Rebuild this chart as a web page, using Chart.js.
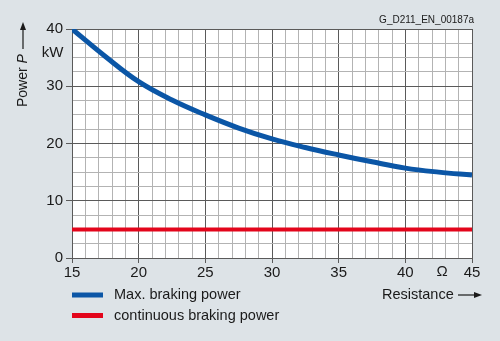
<!DOCTYPE html>
<html>
<head>
<meta charset="utf-8">
<script src="https://cdn.jsdelivr.net/npm/chart.js@4.4.1/dist/chart.umd.min.js"></script>
<style>
  html, body { margin: 0; padding: 0; background: #dde3e7; }
  #wrap { width: 500px; height: 341px; position: relative; }
</style>
</head>
<body>
<div id="wrap"><canvas id="c" width="500" height="341"></canvas></div>
<script>
// ---- data ----
const resistance = [15, 17.5, 20, 22.5, 25, 27.5, 30, 32.5, 35, 37.5, 40, 42.5, 45];
const maxBrakingPower = [40, 35.2, 30.8, 27.6, 25.0, 22.7, 20.8, 19.3, 18.0, 16.8, 15.7, 15.0, 14.5];
const continuousResistance = [15, 45];
const continuousBrakingPower = [5, 5];
const xTickLabels = [15, 20, 25, 30, 35, 40, 45];
const yTickLabels = [0, 10, 20, 30, 40];
const seriesNames = ['Max. braking power', 'continuous braking power'];
const seriesColors = ['#0b56a6', '#e3051b'];
const sourceLabel = 'G_D211_EN_00187a';

const FONT = '"Liberation Sans", Arial, sans-serif';
const MAJOR = '#5a5a5a';
const MINOR = '#b3b3b3';

const bgPlugin = {
  id: 'bg',
  beforeDraw(chart) {
    const { ctx, chartArea: a } = chart;
    ctx.save();
    ctx.fillStyle = '#dde3e7';
    ctx.fillRect(0, 0, chart.width, chart.height);
    ctx.fillStyle = '#ffffff';
    ctx.fillRect(a.left, a.top, a.right - a.left, a.bottom - a.top);
    ctx.restore();
  }
};

function arrow(ctx, x1, y1, x2, y2) {
  const ang = Math.atan2(y2 - y1, x2 - x1);
  const hl = 8, hw = 3;
  ctx.beginPath();
  ctx.moveTo(x1, y1);
  ctx.lineTo(x2 - Math.cos(ang) * hl, y2 - Math.sin(ang) * hl);
  ctx.lineWidth = 1.2;
  ctx.stroke();
  ctx.beginPath();
  ctx.moveTo(x2, y2);
  ctx.lineTo(x2 - Math.cos(ang) * hl - Math.sin(ang) * hw, y2 - Math.sin(ang) * hl + Math.cos(ang) * hw);
  ctx.lineTo(x2 - Math.cos(ang) * hl + Math.sin(ang) * hw, y2 - Math.sin(ang) * hl - Math.cos(ang) * hw);
  ctx.closePath();
  ctx.fill();
}

const textPlugin = {
  id: 'texts',
  afterDraw(chart) {
    const { ctx, chartArea: a } = chart;
    const xs = chart.scales.x;
    ctx.save();
    ctx.fillStyle = '#1a1a1a';
    ctx.strokeStyle = '#1a1a1a';

    ctx.font = '10px ' + FONT;
    ctx.textAlign = 'right';
    ctx.textBaseline = 'middle';
    ctx.fillText(sourceLabel, a.right + 2, 20.5);

    ctx.font = '15px ' + FONT;
    ctx.textAlign = 'right';
    ctx.fillText('kW', 63.5, 53);

    ctx.textAlign = 'center';
    ctx.fillText('Ω', xs.getPixelForValue(42.75), 272);

    ctx.save();
    ctx.translate(23, 107);
    ctx.rotate(-Math.PI / 2);
    ctx.textAlign = 'left';
    ctx.textBaseline = 'middle';
    ctx.font = '14px ' + FONT;
    const t1 = 'Power ';
    ctx.fillText(t1, 0, 0);
    let w = ctx.measureText(t1).width;
    ctx.font = 'italic 14px ' + FONT;
    ctx.fillText('P', w, 0);
    w += ctx.measureText('P').width;
    arrow(ctx, w + 5, 0, w + 32, 0);
    ctx.restore();

    ctx.font = '14.5px ' + FONT;
    ctx.textAlign = 'left';
    ctx.textBaseline = 'middle';
    ctx.fillText('Resistance', 382, 295);
    arrow(ctx, 458, 295, 482, 295);

    chart.data.datasets.forEach((ds, i) => {
      const y = 295 + i * 20.5;
      ctx.strokeStyle = ds.borderColor;
      ctx.lineWidth = 5;
      ctx.beginPath();
      ctx.moveTo(72, y);
      ctx.lineTo(103, y);
      ctx.stroke();
      ctx.fillStyle = '#1a1a1a';
      ctx.font = '14.5px ' + FONT;
      ctx.textAlign = 'left';
      ctx.fillText(ds.label, 114, y);
    });
    ctx.restore();
  }
};

new Chart(document.getElementById('c'), {
  type: 'line',
  data: {
    datasets: [
      {
        label: seriesNames[0],
        data: resistance.map((r, i) => ({ x: r, y: maxBrakingPower[i] })),
        borderColor: seriesColors[0],
        borderWidth: 5,
        pointRadius: 0,
        tension: 0.4,
        borderCapStyle: 'butt',
        clip: 0
      },
      {
        label: seriesNames[1],
        data: continuousResistance.map((r, i) => ({ x: r, y: continuousBrakingPower[i] })),
        borderColor: seriesColors[1],
        borderWidth: 4,
        pointRadius: 0,
        borderCapStyle: 'butt',
        clip: 0
      }
    ]
  },
  options: {
    responsive: false,
    animation: false,
    devicePixelRatio: 1,
    layout: { padding: { left: 0, top: 29, right: 28, bottom: 53 } },
    plugins: { legend: { display: false }, tooltip: { enabled: false } },
    scales: {
      x: {
        type: 'linear',
        min: 15, max: 45,
        afterFit(s) { s.height = 30; },
        ticks: {
          stepSize: 1, autoSkip: false, maxRotation: 0, padding: 1,
          color: '#1a1a1a',
          font: { family: FONT, size: 15 },
          callback: v => xTickLabels.includes(v) ? String(v) : ''
        },
        grid: {
          color: c => (c.tick && c.tick.value % 5 === 0) ? MAJOR : MINOR,
          tickColor: c => (c.tick && c.tick.value % 5 === 0) ? MAJOR : 'rgba(0,0,0,0)',
          tickLength: 5,
          lineWidth: 1
        },
        border: { color: MAJOR, width: 1 }
      },
      y: {
        type: 'linear',
        min: 0, max: 40,
        afterFit(s) { s.width = 72; },
        ticks: {
          stepSize: 2.5, autoSkip: false, padding: 3,
          color: '#1a1a1a',
          font: { family: FONT, size: 15 },
          callback: v => yTickLabels.includes(v) ? String(v) : ''
        },
        grid: {
          color: c => (c.tick && c.tick.value % 10 === 0) ? MAJOR : MINOR,
          tickColor: c => (c.tick && c.tick.value % 10 === 0) ? MAJOR : 'rgba(0,0,0,0)',
          tickLength: 6,
          lineWidth: 1
        },
        border: { color: MAJOR, width: 1 }
      }
    }
  },
  plugins: [bgPlugin, textPlugin]
});
</script>
</body>
</html>
